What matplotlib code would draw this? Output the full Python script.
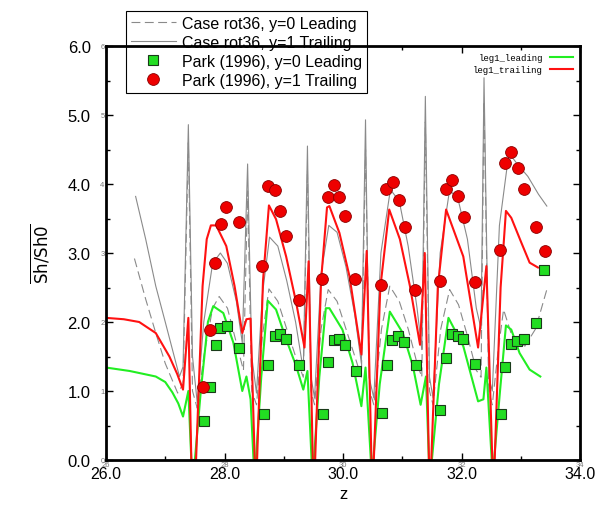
import numpy as np
import matplotlib
matplotlib.use("Agg")
import matplotlib.pyplot as plt
from matplotlib.ticker import MultipleLocator

plt.rcParams["font.family"] = ["Liberation Sans", "DejaVu Sans"]

# CFD, y=0 leading side (green)
lead_z = [26.0, 26.4, 26.84, 27.0, 27.12, 27.22, 27.30, 27.39, 27.44, 27.50, 27.60, 27.72,
          27.81, 27.98, 28.15, 28.30, 28.37, 28.44, 28.49, 28.53, 28.62, 28.73, 28.87, 29.04,
          29.21, 29.33, 29.40, 29.47, 29.51, 29.60, 29.71, 29.77, 29.99, 30.16, 30.31, 30.38,
          30.47, 30.51, 30.62, 30.79, 31.01, 31.18, 31.31, 31.40, 31.45, 31.50, 31.62, 31.78,
          32.03, 32.28, 32.37, 32.42, 32.51, 32.55, 32.65, 32.75, 32.84, 32.98, 33.15, 33.33]
lead_v = [1.34, 1.29, 1.21, 1.13, 0.98, 0.82, 0.63, 1.00, 0.0, 0.0, 1.00, 2.00,
          2.23, 2.13, 1.70, 1.00, 1.21, 0.88, 0.0, 0.0, 1.20, 2.31, 2.18, 1.75,
          1.36, 1.02, 1.29, 0.0, 0.0, 1.20, 2.20, 2.20, 1.89, 1.41, 0.78, 1.34,
          0.0, 0.0, 1.10, 2.15, 1.84, 1.36, 0.80, 1.21, 0.0, 0.0, 1.10, 2.06,
          1.65, 0.85, 0.88, 1.34, 0.0, 0.0, 1.00, 1.95, 1.89, 1.55, 1.31, 1.21]

# CFD, y=1 trailing side (red)
trail_z = [26.0, 26.3, 26.56, 26.84, 27.07, 27.20, 27.30, 27.39, 27.44, 27.52, 27.63, 27.70,
           27.77, 27.86, 28.03, 28.17, 28.30, 28.37, 28.44, 28.51, 28.55, 28.65, 28.75, 28.87,
           29.04, 29.21, 29.35, 29.42, 29.49, 29.53, 29.63, 29.73, 29.77, 29.94, 30.11, 30.31,
           30.40, 30.48, 30.52, 30.63, 30.78, 30.96, 31.13, 31.30, 31.38, 31.45, 31.49, 31.60,
           31.74, 32.03, 32.28, 32.42, 32.52, 32.56, 32.66, 32.75, 32.84, 33.01, 33.15, 33.29]
trail_v = [2.06, 2.04, 2.00, 1.84, 1.50, 1.25, 1.02, 2.06, 0.0, 0.0, 2.52, 3.20,
           3.40, 3.40, 3.10, 2.52, 1.84, 2.04, 2.05, 0.0, 0.0, 2.60, 3.69, 3.49,
           2.95, 2.28, 1.63, 2.88, 0.0, 0.0, 2.60, 3.66, 3.68, 3.29, 2.66, 1.53,
           3.03, 0.0, 0.0, 2.50, 3.63, 3.20, 2.52, 1.67, 3.00, 0.0, 0.0, 2.50,
           3.63, 2.95, 1.63, 2.81, 0.0, 0.0, 2.50, 3.61, 3.51, 3.15, 2.86, 2.79]

# Case rot36, y=0 leading (grey dashed)
rot_lead_z = [26.48, 26.67, 26.84, 27.0, 27.21, 27.30, 27.39, 27.46, 27.54, 27.65, 27.80, 27.91,
              28.05, 28.20, 28.32, 28.39, 28.46, 28.54, 28.64, 28.75, 28.90, 29.05, 29.20, 29.33,
              29.40, 29.46, 29.52, 29.63, 29.75, 29.90, 30.05, 30.20, 30.31, 30.38, 30.45, 30.52,
              30.65, 30.79, 30.95, 31.10, 31.25, 31.33, 31.39, 31.46, 31.52, 31.65, 31.80, 31.95,
              32.10, 32.25, 32.33, 32.38, 32.46, 32.52, 32.62, 32.71, 32.85, 33.07, 33.25, 33.45]
rot_lead_v = [2.92, 2.33, 1.84, 1.40, 0.97, 1.10, 4.60, 1.00, 0.75, 1.50, 2.20, 2.37,
              2.20, 1.70, 1.30, 3.90, 1.00, 0.80, 1.80, 2.48, 2.30, 1.90, 1.50, 1.20,
              4.20, 1.00, 0.80, 1.90, 2.47, 2.30, 1.90, 1.50, 1.20, 4.50, 1.00, 0.80,
              1.90, 2.52, 2.30, 1.90, 1.40, 1.20, 4.90, 1.00, 0.80, 1.90, 2.47, 2.25,
              1.80, 1.30, 1.20, 5.20, 1.00, 0.80, 1.60, 2.18, 1.80, 1.65, 1.90, 2.50]

# Case rot36, y=1 trailing (grey solid)
rot_trail_z = [26.50, 26.67, 26.84, 27.0, 27.24, 27.30, 27.39, 27.46, 27.54, 27.65, 27.80, 27.93,
               28.05, 28.20, 28.30, 28.39, 28.46, 28.54, 28.64, 28.76, 28.90, 29.05, 29.20, 29.33,
               29.40, 29.46, 29.52, 29.63, 29.76, 29.90, 30.05, 30.20, 30.31, 30.38, 30.44, 30.52,
               30.64, 30.80, 30.95, 31.10, 31.25, 31.33, 31.39, 31.46, 31.52, 31.64, 31.80, 31.95,
               32.10, 32.25, 32.33, 32.38, 32.46, 32.52, 32.64, 32.80, 32.95, 33.12, 33.30, 33.44]
rot_trail_v = [3.82, 3.20, 2.52, 2.00, 1.21, 1.35, 4.86, 1.50, 0.83, 2.00, 2.85, 3.00,
               2.85, 2.30, 1.70, 4.29, 1.50, 0.97, 2.40, 3.23, 3.10, 2.60, 2.00, 1.30,
               4.55, 1.20, 0.90, 2.70, 3.40, 3.30, 2.80, 2.10, 1.40, 4.93, 1.20, 0.90,
               3.00, 3.92, 3.75, 3.10, 2.20, 1.60, 5.27, 1.20, 0.90, 3.00, 3.92, 3.75,
               3.20, 2.20, 1.90, 5.54, 1.20, 1.00, 3.40, 4.45, 4.28, 4.11, 3.85, 3.68]

# Park (1996) experiments
park_lead_z = [27.65, 27.75, 27.86, 27.93, 28.05, 28.24,
               28.66, 28.74, 28.85, 28.94, 29.04, 29.25,
               29.67, 29.74, 29.84, 29.93, 30.04, 30.22,
               30.65, 30.74, 30.82, 30.93, 31.03, 31.23,
               31.64, 31.74, 31.84, 31.94, 32.03, 32.23,
               32.66, 32.74, 32.84, 32.94, 33.06, 33.25, 33.40]
park_lead_v = [0.56, 1.06, 1.66, 1.92, 1.94, 1.63,
               0.67, 1.37, 1.79, 1.83, 1.76, 1.38,
               0.67, 1.42, 1.74, 1.76, 1.67, 1.29,
               0.68, 1.38, 1.74, 1.79, 1.71, 1.37,
               0.73, 1.48, 1.82, 1.80, 1.76, 1.39,
               0.67, 1.35, 1.68, 1.72, 1.76, 1.99, 2.75]

park_trail_z = [27.63, 27.76, 27.84, 27.94, 28.03, 28.24,
                28.64, 28.74, 28.86, 28.94, 29.04, 29.25,
                29.65, 29.74, 29.85, 29.94, 30.04, 30.21,
                30.64, 30.72, 30.85, 30.94, 31.05, 31.22,
                31.64, 31.73, 31.84, 31.94, 32.05, 32.22,
                32.65, 32.74, 32.84, 32.95, 33.05, 33.26, 33.41]
park_trail_v = [1.06, 1.88, 2.85, 3.42, 3.67, 3.45,
                2.81, 3.97, 3.92, 3.61, 3.25, 2.32,
                2.63, 3.81, 3.99, 3.81, 3.53, 2.62,
                2.54, 3.93, 4.03, 3.77, 3.38, 2.47,
                2.59, 3.93, 4.06, 3.83, 3.52, 2.58,
                3.05, 4.31, 4.47, 4.23, 3.93, 3.38, 3.03]

xticks = [26, 28, 30, 32, 34]
yticks = [0, 1, 2, 3, 4, 5, 6]

fig = plt.figure(figsize=(6.03, 5.06), dpi=100)
ax = fig.add_axes([106 / 603, 1 - 461 / 506, 474 / 603, 414 / 506])

h_rl, = ax.plot(rot_lead_z, rot_lead_v, color="#8a8a8a", lw=0.8, ls=(0, (8, 4)),
                label="Case rot36, y=0 Leading")
h_rt, = ax.plot(rot_trail_z, rot_trail_v, color="#8a8a8a", lw=0.8,
                label="Case rot36, y=1 Trailing")
g_line, = ax.plot(lead_z, lead_v, color="#22ee22", lw=1.5, label="leg1_leading")
r_line, = ax.plot(trail_z, trail_v, color="#ff1111", lw=1.5, label="leg1_trailing")
h_pl, = ax.plot(park_lead_z, park_lead_v, ls="none", marker="s", ms=7,
                mfc="#22dd22", mec="#1a3a1a", mew=0.8, zorder=4,
                label="Park (1996), y=0 Leading")
h_pt, = ax.plot(park_trail_z, park_trail_v, ls="none", marker="o", ms=8.5,
                mfc="#ee0000", mec="#8a0000", mew=0.6, zorder=5,
                label="Park (1996), y=1 Trailing")

ax.set_xlim(26, 34)
ax.set_ylim(0, 6)
ax.set_xticks(xticks)
ax.set_xticklabels([f"{t:.1f}" for t in xticks])
ax.set_yticks(yticks)
ax.set_yticklabels([f"{t:.1f}" for t in yticks])
ax.xaxis.set_minor_locator(MultipleLocator(1))
ax.yaxis.set_minor_locator(MultipleLocator(0.5))
ax.tick_params(which="both", direction="in", top=True, right=True, width=1)
ax.tick_params(which="major", length=5)
ax.tick_params(which="minor", length=3)
ax.tick_params(axis="y", labelsize=12, pad=11)
ax.tick_params(axis="x", labelsize=11.5, pad=4)
for sp in ax.spines.values():
    sp.set_linewidth(2)
    sp.set_zorder(3)

# small grey duplicate tick labels
sec_y = ax.secondary_yaxis("left")
sec_y.set_yticks(yticks)
sec_y.set_yticklabels([str(t) for t in yticks])
sec_y.tick_params(length=0, labelsize=5.5, labelcolor="#777777", pad=1)
sec_y.spines["left"].set_visible(False)
sec_x = ax.secondary_xaxis("bottom")
sec_x.set_xticks(xticks)
sec_x.set_xticklabels([str(t) for t in xticks])
sec_x.tick_params(length=0, labelsize=5.5, labelcolor="#777777", pad=1)
sec_x.spines["bottom"].set_visible(False)

ax.set_xlabel("z", fontsize=12, labelpad=4)
ax.set_ylabel(r"$\overline{\mathrm{Sh/Sh0}}$", fontsize=12, labelpad=12)

leg1 = ax.legend(handles=[h_rl, h_rt, h_pl, h_pt], loc="upper left",
                 bbox_to_anchor=(126 / 603, 1 - 12 / 506), bbox_transform=fig.transFigure,
                 borderaxespad=0, fancybox=False, framealpha=1, edgecolor="black",
                 fontsize=11.5, handlelength=2.8, labelspacing=0.25, borderpad=0.3,
                 handletextpad=0.4)
leg1.get_frame().set_linewidth(0.8)
leg1.set_zorder(2.4)
ax.add_artist(leg1)

leg2 = ax.legend(handles=[g_line, r_line], loc="upper right", frameon=False,
                 markerfirst=False, prop={"family": "Liberation Mono", "size": 6.5},
                 handlelength=2.5, labelspacing=0.3, borderaxespad=0.4)

fig.savefig("out.png", dpi=100)
